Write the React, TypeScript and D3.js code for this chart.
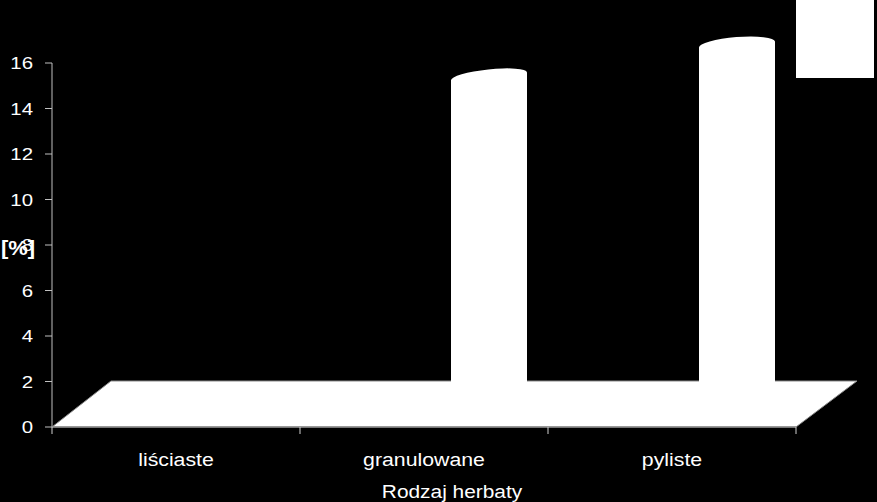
import React, { useEffect } from "react";
import * as d3 from "d3";

const categories = ["liściaste", "granulowane", "pyliste"];
const values = [0, 14.4, 15.8];
const yTicks = [0, 2, 4, 6, 8, 10, 12, 14, 16];
const yTitle = "[%]";
const xTitle = "Rodzaj herbaty";

const W = 877;
const H = 502;

export default function App() {
  useEffect(() => {
    document.body.style.margin = "0";
    document.body.style.background = "#000";
  }, []);

  const x = d3.scaleBand<string>().domain(categories).range([52, 796]).padding(0);
  const y = d3.scaleLinear().domain([0, 16]).range([427, 63]);
  const depthX = 60;
  const depthY = -46;
  const barShift = 65; // perspective shift of the cylinders
  const barW = 76;
  const floorMidY = y(0) + depthY / 2;

  const font = "'Liberation Sans', Arial, sans-serif";

  const floor = [
    [x.range()[0], y(0)],
    [x.range()[0] + depthX - 1, y(0) + depthY],
    [x.range()[1] + depthX + 1, y(0) + depthY],
    [x.range()[1], y(0)],
  ];
  const floorPath = d3.line()(floor as [number, number][]) + "Z";

  const bandEdges = [...categories.map((c) => x(c) as number), x.range()[1]];

  return (
    <svg width={W} height={H} style={{ position: "absolute", left: 0, top: 0, background: "#000", display: "block" }}>
      <rect x={0} y={0} width={W} height={H} fill="#000" />
      {/* floor */}
      <path d={floorPath} fill="#fff" stroke="#8a8a8a" strokeWidth={1} />
      {/* cylinders */}
      {categories.map((c, i) => {
        const v = values[i];
        if (v <= 0) return null;
        const cx = (x(c) as number) + x.bandwidth() / 2 + barShift;
        const cy = y(v) + depthY / 2;
        const half = barW / 2;
        const tiltOff = i === 1 ? 4 : 3;
        const lx = cx - half, rx = cx + half;
        const ly = cy + tiltOff, ry = cy - tiltOff;
        const rot = (Math.atan2(ry - ly, rx - lx) * 180) / Math.PI;
        const a = Math.hypot(rx - lx, ry - ly) / 2;
        const b = i === 1 ? 7 : 7.5;
        const d = `M${lx},${floorMidY}L${lx},${ly}A${a},${b} ${rot} 0 1 ${rx},${ry}L${rx},${floorMidY}Z`;
        return <path key={c} d={d} fill="#fff" />;
      })}
      {/* y axis */}
      <line x1={52} x2={52} y1={y(16)} y2={y(0)} stroke="#c0c0c0" strokeWidth={1} />
      {yTicks.map((t) => (
        <g key={t}>
          <line x1={45} x2={52} y1={y(t)} y2={y(t)} stroke="#c0c0c0" strokeWidth={1} />
          <text
            transform={`translate(33,${y(t) + 6}) scale(1.2,1)`}
            textAnchor="end"
            fill="#fff"
            fontFamily={font}
            fontSize={17}
          >
            {t}
          </text>
        </g>
      ))}
      {/* x axis */}
      <line x1={52} x2={796} y1={y(0)} y2={y(0)} stroke="#8a8a8a" strokeWidth={1.5} />
      {bandEdges.map((e, i) => (
        <line key={i} x1={e} x2={e} y1={y(0)} y2={y(0) + 7} stroke="#d0d0d0" strokeWidth={1} />
      ))}
      {categories.map((c) => (
        <text
          key={c}
          transform={`translate(${(x(c) as number) + x.bandwidth() / 2},466) scale(1.12,1)`}
          textAnchor="middle"
          fill="#fff"
          fontFamily={font}
          fontSize={19}
        >
          {c}
        </text>
      ))}
      <text
        transform={`translate(452,498) scale(1.16,1)`}
        textAnchor="middle"
        fill="#fff"
        fontFamily={font}
        fontSize={18}
      >
        {xTitle}
      </text>
      <text
        transform={`translate(18,255) scale(1.1,1)`}
        textAnchor="middle"
        fill="#fff"
        fontFamily={font}
        fontSize={20}
        fontWeight="bold"
      >
        {yTitle}
      </text>
      {/* legend */}
      <rect x={796} y={0} width={78} height={78} fill="#fff" />
    </svg>
  );
}
